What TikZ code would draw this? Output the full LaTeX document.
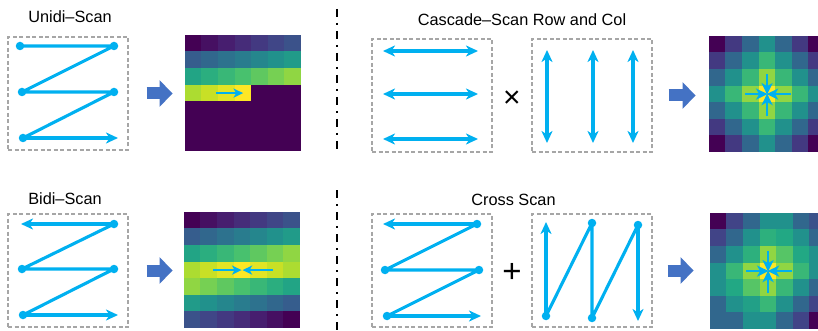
\documentclass[tikz,border=0pt]{standalone}
\usepackage{fontspec}
\setmainfont{Liberation Sans}
\usetikzlibrary{arrows.meta}

\definecolor{scanblue}{HTML}{00B0F0}
\definecolor{boxgray}{HTML}{A6A6A6}
\definecolor{flowblue}{HTML}{4472C4}
\definecolor{vir0}{HTML}{440154}
\definecolor{vir1}{HTML}{482475}
\definecolor{vir2}{HTML}{414487}
\definecolor{vir3}{HTML}{355F8D}
\definecolor{vir4}{HTML}{2A788E}
\definecolor{vir5}{HTML}{21918C}
\definecolor{vir6}{HTML}{22A884}
\definecolor{vir7}{HTML}{44BF70}
\definecolor{vir8}{HTML}{7AD151}
\definecolor{vir9}{HTML}{BDDF26}
\definecolor{vir10}{HTML}{FDE725}

\tikzset{scantip/.tip={Stealth[length=12pt, width=11pt, inset=3.5pt]}}
\tikzset{heattip/.tip={Stealth[length=9.5pt, width=9pt, inset=2.5pt]}}
\tikzset{startip/.tip={Stealth[length=11.5pt, width=11pt, inset=3pt]}}

\tikzstyle{title} = [font=\fontsize{16.3}{18}\selectfont, anchor=base, inner sep=0pt]
\tikzstyle{scanbox} = [rectangle, minimum width=120pt, minimum height=113pt,
draw=boxgray, line width=1.1pt, dash pattern=on 4pt off 2.5pt, inner sep=0pt]
\tikzstyle{scanline} = [draw=scanblue, line width=3.1pt, line join=round]
\tikzstyle{scanarrow} = [scanline, -scantip]
\tikzstyle{bothways} = [scanline, scantip-scantip]
\tikzstyle{dot} = [circle, fill=scanblue, minimum size=8.5pt, inner sep=0pt]
\tikzstyle{heatarrow} = [draw=scanblue, line width=2.6pt, -heattip]
\tikzstyle{stararrow} = [draw=scanblue, line width=2.7pt, -startip]
\tikzstyle{bigarrow} = [draw=flowblue, line width=12pt, -{Triangle[length=13pt, width=26pt]}]
\tikzstyle{heatmap} = [rectangle, minimum size=116.2pt, inner sep=0pt]
\tikzstyle{sign} = [anchor=base, inner sep=0pt]
\tikzstyle{divider} = [draw=black, line width=1.8pt, dash pattern=on 8pt off 6pt on 2pt off 6pt]

% one heatmap cell: column, row, value in [0,1] on the viridis scale
\newcommand{\vircell}[3]{%
  \pgfmathsetmacro\cellv{min(max(#3,0),1)*10}%
  \pgfmathtruncatemacro\celli{min(floor(\cellv),9)}%
  \pgfmathtruncatemacro\cellj{\celli+1}%
  \pgfmathtruncatemacro\cellf{round((\cellv-\celli)*100)}%
  \fill[vir\cellj!\cellf!vir\celli] (#1*16.6, #2*16.6) rectangle ++(16.9, 16.9);
}

\begin{document}
\begin{tikzpicture}[x=1pt, y=-1pt]
  \clip (0,0) rectangle (818,331);

  % titles
  \node[title] (unititle) at (70,23) {Unidi–Scan};
  \node[title] (bidititle) at (65,204) {Bidi–Scan};
  \node[title] (castitle) at (522,26) {Cascade–Scan Row and Col};
  \node[title] (crstitle) at (513.5,205) {Cross Scan};

  % divider
  \draw[divider] (337,9) -- (337,153);
  \draw[divider] (337,190) -- (337,331);

  % scan boxes
  \node[scanbox] (uni) at (68,93.5) {};
  \node[scanbox] (bidi) at (68,270.5) {};
  \node[scanbox] (casrow) at (432,95.5) {};
  \node[scanbox] (cascol) at (592,95.5) {};
  \node[scanbox] (crsrow) at (432,270.5) {};
  \node[scanbox] (crscol) at (592,270.5) {};

  \node[sign, font=\fontsize{30}{30}\selectfont] (times) at (512,107.5) {×};
  \node[sign, font=\fontsize{33}{33}\selectfont] (plus) at (512,282.5) {+};

  % unidi scan
  \node[dot] (u1) at (20,46) {};
  \node[dot] (u2) at (114,46) {};
  \node[dot] (u3) at (22,92) {};
  \node[dot] (u4) at (114,92) {};
  \node[dot] (u5) at (23,138) {};
  \coordinate (u6) at (118,138);
  \draw[scanline] (u1.center) -- (u2.center) -- (u3.center) -- (u4.center) -- (u5.center);
  \draw[scanarrow] (u5.center) -- (u6);

  % bidi scan
  \coordinate (b1) at (21,224);
  \node[dot] (b2) at (114,224) {};
  \node[dot] (b3) at (22,269) {};
  \node[dot] (b4) at (114,269) {};
  \node[dot] (b5) at (23,315) {};
  \coordinate (b6) at (118,315);
  \draw[scanarrow] (b2.center) -- (b1);
  \draw[scanline] (b2.center) -- (b3.center) -- (b4.center) -- (b5.center);
  \draw[scanarrow] (b5.center) -- (b6);

  % cascade scan, rows and columns
  \foreach \y in {51,94,139}
    \draw[bothways] (383,\y) -- (478,\y);
  \foreach \x in {547,593,633}
    \draw[bothways] (\x,50) -- (\x,143);

  % cross scan, rows
  \coordinate (r1) at (383,224);
  \node[dot] (r2) at (477,224) {};
  \node[dot] (r3) at (385,270) {};
  \node[dot] (r4) at (479,270) {};
  \node[dot] (r5) at (387,316) {};
  \coordinate (r6) at (481,316);
  \draw[scanarrow] (r2.center) -- (r1);
  \draw[scanline] (r2.center) -- (r3.center) -- (r4.center) -- (r5.center);
  \draw[scanarrow] (r5.center) -- (r6);

  % cross scan, columns
  \coordinate (c1) at (546,222);
  \node[dot] (c2) at (546,316) {};
  \node[dot] (c3) at (592,223) {};
  \node[dot] (c4) at (592,318) {};
  \node[dot] (c5) at (638,225) {};
  \coordinate (c6) at (638,321);
  \draw[scanarrow] (c2.center) -- (c1);
  \draw[scanline] (c2.center) -- (c3.center) -- (c4.center) -- (c5.center);
  \draw[scanarrow] (c5.center) -- (c6);

  % heatmaps
  \node[heatmap] (heat1) at (243.1,93.1) {};
  \node[heatmap] (heat2) at (242.1,270.1) {};
  \node[heatmap] (heat3) at (767.1,94.1) {};
  \node[heatmap] (heat4) at (768.1,271.1) {};

  \begin{scope}[shift={(heat1.north west)}]
    \foreach \r in {0,...,6}
      \foreach \c in {0,...,6}{
        \pgfmathsetmacro\cellk{7*\r+\c}
        \vircell{\c}{\r}{ifthenelse(\cellk<=24, \cellk/24, 0)}
      }
  \end{scope}
  \begin{scope}[shift={(heat2.north west)}]
    \foreach \r in {0,...,6}
      \foreach \c in {0,...,6}{
        \pgfmathsetmacro\cellk{7*\r+\c}
        \vircell{\c}{\r}{min(\cellk, 48-\cellk)/24}
      }
  \end{scope}
  \begin{scope}[shift={(heat3.north west)}]
    \foreach \r in {0,...,6}
      \foreach \c in {0,...,6}
        \vircell{\c}{\r}{1-(abs(\r-3)+abs(\c-3))/6};
  \end{scope}
  \begin{scope}[shift={(heat4.north west)}]
    \foreach \row [count=\r from 0] in {{0,1.2,2,3,3,2,1.5},{1.2,2,3,3.8,3.6,3,2},
      {2,3,3.8,5,4.4,3.6,3},{3,4,5,6,5,4,3},{3,3.6,4.4,5,4,3,2},
      {2,3,3.4,4,3,2,1.2},{2,2,3,3,2,1.2,0}}
      \foreach \v [count=\c from 0] in \row
        \vircell{\c}{\r}{\v/6};
  \end{scope}

  % arrows on the heatmaps
  \draw[heatarrow] ([xshift=-27pt]heat1.center) -- (heat1.center);
  \draw[heatarrow] ([xshift=-29pt]heat2.center) -- ([xshift=-0.5pt]heat2.center);
  \draw[heatarrow] ([xshift=31pt]heat2.center) -- ([xshift=0.5pt]heat2.center);
  \foreach \h in {heat3,heat4}{
    \draw[stararrow] ([xshift=-22pt]\h.center) -- ([xshift=0.5pt]\h.center);
    \draw[stararrow] ([xshift=24pt]\h.center) -- ([xshift=-0.5pt]\h.center);
    \draw[stararrow] ([yshift=20pt]\h.center) -- ([yshift=-0.5pt]\h.center);
    \draw[stararrow] ([yshift=-22pt]\h.center) -- ([yshift=0.5pt]\h.center);
  }

  % flow arrows
  \draw[bigarrow] ([xshift=18pt]uni.east) -- ++(26,0);
  \draw[bigarrow] ([xshift=18pt]bidi.east) -- ++(26,0);
  \draw[bigarrow] ([xshift=16pt]cascol.east) -- ++(27,0);
  \draw[bigarrow] ([xshift=15pt]crscol.east) -- ++(26,0);
\end{tikzpicture}
\end{document}
